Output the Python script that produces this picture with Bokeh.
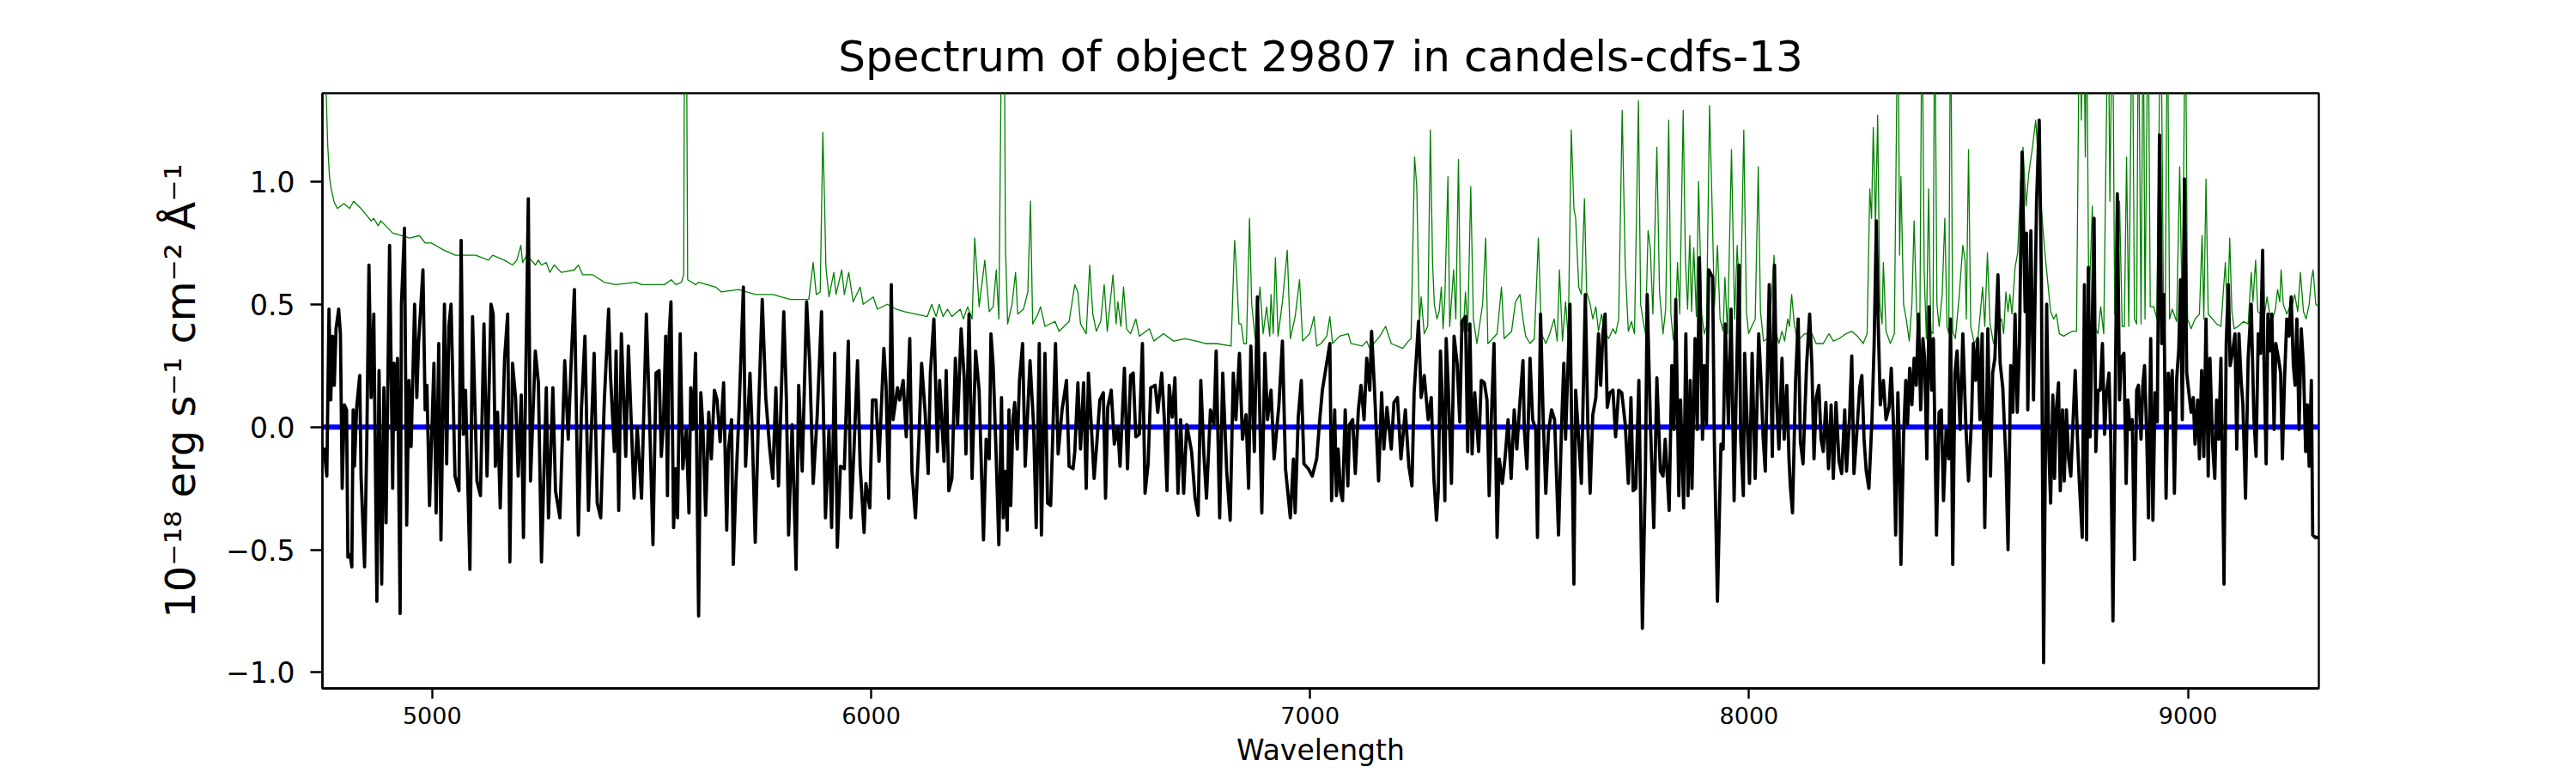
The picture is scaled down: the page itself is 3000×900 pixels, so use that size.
from bokeh.plotting import figure
from bokeh.models import Range1d, FixedTicker, CustomJSTickFormatter, Span
from bokeh.embed import file_html
from bokeh.resources import INLINE

title_text = "Spectrum of object 29807 in candels-cdfs-13"
x_label = "Wavelength"
y_label = "10\u207b\u00b9\u2078 erg s\u207b\u00b9 cm\u207b\u00b2 \u00c5\u207b\u00b9"
x_ticks = [5000, 6000, 7000, 8000, 9000]
y_ticks = [-1.0, -0.5, 0.0, 0.5, 1.0]
x_limits = (4750, 9298)
y_limits = (-1.065, 1.36)
zero_level = 0.0

# observed flux (black)
flux_wave = [
4750,4754,4760,4765,4769,4773,4777,4781,4787,4791,4795,4800,4805,4808,4813,4817,4820,4823,4828,4835,
4838,4846,4851,4856,4861,4867,4874,4879,4885,4890,4895,4903,4910,4913,4917,4921,4927,4930,4937,4942,
4947,4952,4960,4965,4969,4979,4984,4988,4994,5004,5009,5015,5020,5028,5033,5038,5043,5052,5061,5066,
5071,5076,5086,5092,5102,5110,5118,5125,5134,5139,5144,5149,5155,5165,5172,5177,5183,5190,5196,5203,
5208,5219,5224,5235,5242,5249,5260,5265,5275,5281,5291,5302,5310,5317,5324,5333,5340,5348,5356,5369,
5376,5384,5392,5402,5406,5415,5419,5425,5431,5441,5447,5460,5467,5477,5488,5495,5503,
5510,5517,5522,5527,5532,5536,5540,5544,5550,5555,5559,5565,5571,5579,5585,5589,5594,5600,5607,5612,
5617,5623,5630,5636,5643,5649,5656,5664,5671,5675,5682,5686,5692,5699,5709,5714,5724,5729,5736,5744,
5752,5760,5769,5776,5783,5789,5801,5807,5812,5820,5829,5835,5843,5853,5860,5868,5877,5887,5896,5904,
5910,5917,5923,5930,5939,5948,5954,5961,5969,5975,5984,5988,5997,6003,6011,6018,6029,6034,6040,6046,
6050,6060,6065,6073,6080,6088,6093,6101,6109,6115,6123,6130,6135,6143,6151,6156,6161,6166,6171,6177,
6184,6192,6197,6205,6212,6216,6223,6230,6238,6246,6256,6262,
6269,6273,6278,6284,6291,6297,6301,6306,6310,6314,6318,6323,6327,6333,6338,6345,6351,6362,6370,6376,
6383,6388,6396,6402,6409,6420,6426,6435,6445,6451,6460,6464,6471,6477,6484,6490,6495,6502,6508,6514,
6521,6529,6534,6539,6547,6554,6562,6567,6577,6584,6591,6597,6603,6611,6618,6624,6631,6637,6647,6653,
6662,6668,6674,6679,6686,6692,6699,6705,6712,6719,6730,6738,6745,6751,6758,6764,6773,6781,6786,6794,
6801,6810,6818,6825,6831,6839,6846,6854,6860,6865,6873,6880,6890,6897,6903,6911,6918,6929,6937,6944,
6950,6955,6962,6966,6973,6980,6986,6996,7005,7015,7022,7028,
7045,7049,7056,7060,7064,7069,7074,7080,7086,7090,7097,7103,7110,7116,7123,7129,7136,7140,7146,7151,
7156,7163,7168,7175,7185,7191,7199,7207,7217,7225,7232,7237,7247,7253,7260,7269,7276,7282,7288,7292,
7297,7302,7307,7310,7315,7322,7328,7335,7341,7346,7354,7359,7364,7369,7375,7384,7390,7397,7403,7408,
7413,7419,7426,7431,7438,7444,7451,7458,7465,7471,7478,7485,7488,7494,7501,7507,7514,7518,7525,7531,
7537,7543,7550,7557,7566,7573,7578,7582,7592,7601,7605,7612,7618,7627,7633,7638,7644,7651,7657,7662,
7667,7672,7677,7683,7690,7696,7703,7710,7718,7725,7731,7736,7742,7749,7757,7764,7768,7775,7783,7790,
7798,
7804,7809,7814,7818,7824,7829,7833,7840,7844,7851,7856,7861,7866,7870,7877,7882,7887,7894,7898,7903,
7908,7917,7921,7928,7936,7941,7946,7953,7959,7966,7970,7977,7981,7987,7990,7996,8001,8007,8014,8022,
8027,8032,8037,8046,8053,8058,8063,8068,8075,8080,8086,8091,8094,8099,8106,8112,8117,8123,8131,8138,
8143,8148,8153,8159,8164,8169,8175,8181,8187,8192,8198,8205,8211,8218,8222,8229,8234,8239,8246,8252,
8257,8262,8267,8273,8280,8285,8290,8294,8299,8306,8312,8319,8324,8329,8334,8339,8342,8346,8352,8357,
8361,8366,8371,8376,8381,8386,8391,8396,8400,8405,8410,8416,8420,8427,8433,8438,8443,8449,8455,8459,
8464,8469,8474,8481,8487,8494,8500,8507,8511,8516,8521,8526,8531,8537,8544,8550,8555,8560,8567,
8572,8578,8585,8590,8596,8601,8606,8611,8616,8622,8629,8632,8635,8642,8648,8655,8661,8666,8671,8678,
8683,8687,8692,8696,8700,8705,8709,8714,8718,8723,8728,8733,8738,8743,8748,8752,8759,8764,8769,8773,
8777,8782,8786,8790,8795,8800,8805,8810,8814,8820,8824,8829,8834,8839,8844,8848,8854,8859,8863,8868,
8873,8878,8883,8887,8893,8897,8901,8906,8910,8915,8920,8925,8930,8935,8940,8945,8950,8955,8959,8964,
8969,8974,8979,8983,8987,8992,8997,9002,9007,9012,9016,9022,9026,9031,9036,9041,9046,9050,9056,9061,
9065,9070,9075,9082,9087,9092,9096,9101,9107,9111,9116,9121,9125,9131,9137,9144,9150,9155,9160,9165,
9170,9173,9178,9182,9186,9191,9196,9200,9206,9211,9215,9220,9225,9230,9235,9240,9244,9248,9253,9258,
9263,9268,9272,9276,9281,9284,9290,9298]
flux_value = [
-0.10,-0.09,-0.20,0.48,0.11,0.37,0.17,0.40,0.48,0.38,-0.25,0.09,0.07,-0.53,-0.52,-0.57,0.07,-0.16,0.08,0.21,
-0.20,-0.57,-0.07,0.66,0.12,0.46,-0.71,0.23,-0.64,0.16,-0.39,0.74,-0.25,0.26,-0.01,0.28,-0.76,0.50,0.81,-0.40,
0.19,-0.08,0.50,0.12,0.34,0.64,0.07,0.17,-0.32,0.26,-0.35,0.34,-0.46,0.50,-0.15,0.41,0.50,-0.20,-0.26,0.76,
-0.03,0.15,-0.58,0.45,-0.22,-0.28,0.42,-0.20,0.50,0.46,-0.16,0.06,-0.33,0.28,0.46,-0.55,0.26,0.12,-0.20,0.13,
-0.45,0.93,-0.22,0.31,0.18,-0.55,0.16,-0.37,0.16,-0.26,-0.37,0.27,-0.05,0.28,0.56,-0.44,0.07,0.37,-0.34,0.30,
-0.31,-0.37,0.10,0.48,0.22,-0.10,0.31,-0.34,0.38,-0.12,0.33,-0.29,0.00,-0.29,0.46,0.05,-0.48,
0.22,0.23,-0.12,0.03,0.37,-0.28,0.38,0.51,-0.41,-0.17,-0.37,0.38,-0.17,-0.01,-0.35,0.16,-0.01,0.30,-0.77,0.14,
-0.01,-0.36,0.06,-0.13,0.15,0.11,-0.06,0.18,-0.42,-0.09,0.03,-0.56,-0.23,0.06,0.57,-0.16,0.22,-0.01,-0.47,0.09,
0.52,0.12,-0.09,-0.21,0.16,-0.24,0.47,0.11,-0.44,0.01,-0.58,0.17,-0.18,0.51,0.26,-0.23,0.04,0.47,-0.37,-0.01,
-0.41,0.30,-0.49,-0.16,-0.17,0.35,-0.37,-0.09,0.27,-0.16,-0.43,-0.23,-0.33,0.11,0.11,-0.14,0.32,0.17,-0.29,0.58,
0.03,0.16,0.11,0.19,-0.04,0.36,-0.18,-0.37,-0.04,0.26,0.06,-0.19,0.22,0.44,-0.10,0.19,0.03,-0.14,0.23,-0.26,
-0.21,0.28,0.01,0.40,0.20,-0.11,0.46,-0.21,0.31,0.15,-0.46,-0.05,
-0.13,0.38,0.25,-0.07,-0.48,0.12,-0.37,-0.18,-0.42,0.07,-0.32,0.03,0.10,-0.09,0.19,0.34,-0.16,0.27,0.01,-0.41,
0.34,-0.44,0.30,-0.31,-0.32,0.34,-0.11,0.07,0.19,-0.16,-0.17,-0.10,0.18,-0.09,0.18,-0.25,0.22,-0.01,-0.21,-0.07,
0.11,0.14,-0.29,0.08,0.15,-0.07,0.00,-0.16,0.24,-0.17,0.21,0.22,-0.04,-0.03,0.34,-0.27,-0.15,0.16,0.17,0.06,
0.22,0.03,-0.26,0.17,0.04,0.20,-0.27,0.03,-0.27,0.01,-0.10,-0.29,-0.36,0.19,-0.11,-0.29,0.07,0.01,0.31,-0.37,
0.22,-0.18,-0.38,0.22,0.03,0.30,-0.05,0.05,-0.25,0.33,-0.10,0.53,-0.35,0.30,0.03,0.15,-0.13,0.09,0.35,-0.17,
-0.28,-0.37,-0.13,-0.35,0.04,0.19,-0.15,-0.17,-0.20,-0.13,0.03,0.15,
0.34,-0.30,0.07,-0.28,-0.09,-0.26,-0.30,0.07,-0.24,0.01,0.03,-0.19,0.07,0.17,0.03,0.28,0.15,0.39,0.18,-0.02,
-0.22,0.14,-0.09,0.08,-0.09,0.10,0.12,-0.13,0.07,-0.16,-0.24,0.14,0.43,0.12,0.21,0.03,0.12,-0.21,-0.38,-0.26,
0.31,0.07,-0.30,0.36,0.15,-0.23,0.37,0.26,0.02,0.43,0.45,-0.10,0.42,-0.11,0.14,-0.10,0.19,0.18,0.11,-0.28,
0.04,0.34,-0.45,-0.13,-0.23,-0.13,0.03,-0.21,0.07,-0.09,0.10,0.27,-0.01,-0.17,0.28,0.03,-0.01,-0.45,0.46,0.04,
-0.27,-0.02,0.07,0.03,-0.44,0.01,0.26,-0.05,0.50,-0.64,0.15,-0.05,-0.23,0.54,-0.01,-0.27,0.05,0.12,0.38,0.17,
0.38,0.46,0.08,0.14,0.15,-0.04,0.15,0.14,0.01,-0.23,0.12,-0.26,-0.25,0.19,-0.82,-0.17,0.54,0.03,-0.41,0.20,
-0.18,
-0.20,-0.05,-0.21,-0.34,0.25,-0.01,0.52,-0.28,0.11,-0.33,0.38,-0.28,0.19,-0.25,0.36,-0.01,0.69,-0.05,0.25,0.01,
0.64,0.61,-0.07,-0.71,-0.07,-0.09,0.42,0.01,0.48,-0.30,0.08,0.66,-0.05,-0.28,0.30,0.00,-0.23,0.30,-0.21,0.38,
0.20,-0.04,-0.18,0.58,-0.12,0.66,0.10,-0.09,0.28,-0.05,0.17,-0.13,-0.24,-0.35,0.19,0.44,-0.06,-0.15,0.25,0.46,
0.26,-0.13,0.12,0.17,-0.05,-0.10,0.10,-0.17,0.09,-0.21,0.10,-0.14,-0.19,0.07,-0.18,0.04,0.29,-0.19,-0.01,0.16,
0.21,-0.05,-0.18,-0.25,0.03,0.34,0.84,0.44,0.09,0.19,0.03,0.08,0.24,0.01,-0.44,0.14,-0.04,-0.56,-0.04,0.19,
0.01,0.24,0.09,0.28,0.17,0.46,0.07,0.36,0.28,-0.13,0.49,0.15,0.36,-0.44,0.06,0.07,-0.30,-0.01,-0.13,0.44,
-0.56,0.22,0.31,-0.01,0.38,0.00,-0.22,0.04,0.34,0.19,0.36,0.03,0.38,-0.41,0.40,-0.20,0.22,0.28,0.62,
0.26,0.16,-0.13,-0.50,0.25,0.06,0.46,0.06,0.34,1.12,0.47,0.79,0.07,0.80,0.11,0.92,1.25,0.60,-0.96,0.50,
-0.10,-0.31,0.13,-0.21,0.07,0.18,-0.26,0.07,-0.22,0.07,-0.13,-0.20,0.02,0.23,-0.04,-0.21,-0.45,0.58,-0.46,0.65,
-0.04,0.44,0.85,-0.10,0.15,0.15,0.34,-0.03,0.13,0.22,-0.05,-0.79,0.09,0.95,0.11,0.28,0.30,-0.23,0.11,-0.01,
0.03,-0.54,0.15,0.17,-0.05,0.17,0.25,-0.04,-0.37,0.36,-0.38,0.14,0.02,1.19,0.34,0.54,-0.29,0.22,0.07,0.23,
-0.27,0.19,0.32,0.60,0.03,1.01,0.22,0.14,0.06,0.12,-0.07,0.11,-0.13,0.23,-0.12,0.44,-0.20,0.28,-0.07,-0.21,
0.11,-0.05,0.28,-0.64,0.34,0.58,0.25,0.30,0.38,-0.09,0.38,0.19,0.09,-0.29,0.28,0.50,0.04,-0.12,0.38,0.30,
0.72,0.28,-0.15,0.46,0.31,0.46,-0.01,0.34,0.28,0.22,-0.13,0.20,0.44,0.37,0.53,0.25,0.17,0.44,-0.01,0.40,
0.25,-0.10,0.09,-0.16,0.19,-0.44,-0.45,-0.45]

# noise / error spectrum (green)
noise_wave = [
4750,4757,4762,4766,4769,4776,4784,4799,4812,4821,4838,4861,4867,4877,4883,4910,4929,4949,4971,4984,
4998,5027,5053,5099,5128,5138,5164,5183,5193,5202,5206,5216,5235,5242,5249,5260,5268,5278,5294,5324,
5333,5343,5366,5392,5418,5464,5477,5522,
5529,5545,5555,5568,5573,5575,5579,5582,5591,5600,5607,5626,5646,5659,5698,5737,5776,5816,5858,5868,
5875,5884,5890,5894,5897,5904,5915,5920,5933,5939,5949,5959,5975,5982,6005,6014,6037,6057,6076,6128,
6138,6148,6155,6164,6174,6184,6203,6210,6220,6230,6236,6246,6259,6269,
6278,6285,6291,6298,6303,6306,6311,6321,6329,6334,6347,6357,6363,6368,6380,6386,6396,6419,6428,6451,
6464,6471,6477,6490,6498,6505,6513,6523,6531,6538,6551,6558,6562,6569,6575,6582,6591,6603,6611,6634,
6644,6666,6689,6715,6741,6761,6787,6820,6828,6831,6838,6843,6849,6855,6862,6867,6875,6886,6893,6901,
6908,6911,6916,6921,6927,6937,6948,6955,6966,6976,6983,6999,7009,7015,7025,7038,
7045,7051,7067,7087,7093,7119,7129,7136,7159,7172,7185,7211,7224,7230,7238,7243,7249,7253,7260,7268,
7274,7279,7283,7289,7294,7299,7303,7307,7314,7318,7327,7332,7338,7343,7349,7354,7359,7366,7372,7380,
7393,7400,7405,7416,7426,7436,7442,7459,7468,7478,7485,7491,7501,7511,7520,7527,7537,7546,7556,7563,
7568,7575,7582,7588,7595,7601,7605,7612,7618,7625,7630,7638,7644,7651,7657,7664,7670,7680,7690,7696,
7703,7711,7718,7725,7732,7739,7748,7753,7758,7764,7770,7775,7781,7790,7796,
7804,7810,7817,7822,7827,7831,7837,7842,7850,7855,7860,7865,7869,7874,7880,7885,7892,7898,7903,7910,
7916,7921,7928,7934,7941,7945,7951,7960,7967,7973,7980,7988,7994,7999,8006,8014,8021,8026,8033,8042,
8048,8057,8061,8068,8075,8081,8088,8092,8097,8103,8110,8127,8143,8153,8169,8182,8192,8205,8221,8234,
8247,8260,8269,8275,8279,8283,8288,8293,8298,8303,8306,8312,8322,8331,8339,8343,8346,8352,8358,8365,
8371,8376,8383,8389,8394,8399,8404,8409,8414,8419,8423,8428,8433,8440,8446,8451,8455,8459,8464,8470,
8479,8487,8492,8495,8500,8505,8513,8522,8532,8537,8543,8549,8557,
8568,8575,8580,8585,8590,8594,8599,8606,8612,8619,8624,8631,8637,8645,8653,8661,8668,8674,8681,8687,
8694,8700,8707,8717,8726,8736,8746,8753,8757,8762,8766,8769,8774,8782,8787,8795,8801,8808,8818,8822,
8828,8833,8839,8844,8850,8855,8860,8865,8873,8878,8883,8887,8893,8898,8902,8909,8914,8922,8929,8938,
8944,8948,8953,8958,8964,8974,8981,8987,8994,8999,9007,9016,9026,9032,9036,9041,9046,9056,9065,9075,
9085,9090,9095,9100,9105,9114,9127,9137,9144,9148,9154,9159,9167,9173,9180,9186,9193,9199,9204,9209,
9212,9217,9225,9232,9238,9243,9250,9256,9263,9269,9276,9281,9285,9291,9298]
noise_value = [
1.80,1.45,1.15,1.02,0.98,0.92,0.89,0.91,0.89,0.92,0.89,0.84,0.85,0.82,0.84,0.79,0.78,0.77,0.78,0.75,
0.75,0.72,0.70,0.70,0.68,0.70,0.68,0.66,0.68,0.74,0.67,0.70,0.66,0.68,0.66,0.67,0.63,0.66,0.63,0.64,
0.66,0.62,0.62,0.59,0.58,0.59,0.58,0.58,
0.58,0.60,0.58,0.59,0.62,1.80,1.80,0.60,0.59,0.58,0.59,0.58,0.57,0.55,0.56,0.54,0.54,0.52,0.52,0.67,
0.54,0.55,1.20,0.91,0.65,0.53,0.63,0.54,0.64,0.54,0.63,0.51,0.57,0.50,0.53,0.48,0.50,0.48,0.47,0.45,
0.50,0.45,0.50,0.45,0.48,0.45,0.48,0.44,0.49,0.44,0.77,0.49,0.68,0.47,
0.49,0.64,0.44,1.80,1.80,0.74,0.42,0.50,0.63,0.46,0.48,0.55,0.92,0.42,0.46,0.49,0.41,0.43,0.39,0.43,
0.58,0.55,0.42,0.38,0.66,0.46,0.39,0.43,0.58,0.39,0.62,0.42,0.51,0.41,0.57,0.40,0.38,0.44,0.37,0.40,
0.35,0.38,0.35,0.36,0.35,0.34,0.34,0.33,0.76,0.68,0.42,0.42,0.34,0.34,0.85,0.50,0.36,0.57,0.38,0.49,
0.37,0.54,0.38,0.69,0.37,0.51,0.72,0.36,0.45,0.60,0.35,0.38,0.45,0.33,0.34,0.37,
0.45,0.34,0.37,0.38,0.34,0.33,0.35,0.32,0.37,0.41,0.34,0.32,0.35,0.36,1.10,0.98,0.42,0.53,0.38,0.41,
1.21,0.67,0.50,0.44,0.47,0.57,0.40,0.53,1.02,0.41,0.64,0.44,1.09,0.41,0.39,0.55,0.39,0.98,0.44,0.34,
0.50,0.77,0.34,0.36,0.38,0.57,0.36,0.39,0.51,0.54,0.44,0.37,0.34,0.36,0.77,0.38,0.34,0.38,0.44,0.35,
0.64,0.35,0.51,0.36,1.21,0.89,0.85,0.57,0.54,0.93,0.55,0.50,0.44,0.49,0.39,0.46,0.39,0.36,0.40,0.38,
0.44,1.29,0.65,0.39,0.43,0.38,1.33,0.50,0.44,0.38,0.80,0.73,0.46,1.14,0.55,
0.38,0.48,1.25,0.46,0.36,0.34,0.67,0.46,1.29,0.68,0.48,0.78,0.47,0.73,0.45,1.00,0.46,0.38,0.41,1.31,
0.89,0.49,0.74,0.44,0.39,0.61,0.38,1.13,0.44,0.74,0.44,1.21,0.47,0.38,0.41,0.44,1.06,0.47,0.35,0.36,
0.44,0.70,0.39,0.34,0.39,0.35,0.44,0.41,0.54,0.42,0.35,0.38,0.38,0.34,0.34,0.38,0.35,0.36,0.38,0.39,
0.37,0.34,0.38,0.97,0.85,1.22,0.82,1.27,0.50,0.42,0.67,0.39,0.34,0.38,1.80,0.70,1.02,0.50,0.44,0.35,
0.50,0.84,0.39,0.38,1.80,0.63,0.36,0.97,0.39,0.38,1.80,0.50,0.41,0.54,0.85,0.41,0.38,1.80,0.39,0.36,
0.54,0.74,0.68,0.44,1.13,0.41,0.34,0.37,0.57,0.41,0.71,0.42,0.34,
0.42,0.44,0.38,0.55,0.47,0.54,0.46,0.65,0.71,1.00,1.14,0.90,1.03,1.13,1.25,1.03,0.84,0.71,0.58,0.47,
0.44,0.46,0.38,0.37,0.38,0.39,0.39,1.80,1.25,1.80,1.10,1.80,0.47,0.90,0.41,0.38,0.49,0.38,1.80,0.92,
1.80,0.46,0.44,0.92,0.41,0.41,1.10,0.41,1.80,0.44,0.42,1.80,0.42,1.80,0.44,1.80,0.49,0.49,0.44,1.80,
0.52,0.42,1.80,0.44,0.48,0.43,1.06,0.44,1.80,0.44,0.40,0.44,0.46,0.78,0.44,1.01,0.46,0.44,0.42,0.41,
0.67,0.44,0.77,0.47,0.40,0.41,0.43,0.42,0.63,0.51,0.68,0.47,0.46,0.44,0.53,0.46,0.44,0.48,0.56,0.51,
0.64,0.50,0.46,0.49,0.50,0.54,0.47,0.63,0.47,0.44,0.50,0.60,0.64,0.50,0.49]

FONT = "DejaVu Sans"

p = figure(width=3000, height=900,
           x_range=Range1d(*x_limits), y_range=Range1d(*y_limits),
           output_backend="svg", toolbar_location=None,
           min_border_left=375, min_border_right=300,
           min_border_top=108, min_border_bottom=99,
           title=title_text)

p.background_fill_color = "white"
p.border_fill_color = "white"
p.outline_line_color = "black"
p.outline_line_width = 2.4
p.grid.visible = False

p.title.text_font = FONT
p.title.text_font_size = "50px"
p.title.text_font_style = "normal"
p.title.text_color = "black"
p.title.align = "center"
p.title.standoff = 28

zero_span = Span(location=zero_level, dimension="width", line_color="#0000ff",
                 line_width=6, level="underlay")
p.add_layout(zero_span)

p.line(noise_wave, noise_value, line_color="#008000", line_width=1.3, line_join="round")
p.line(flux_wave, flux_value, line_color="black", line_width=3.8, line_join="round")

xa = p.xaxis[0]
xa.ticker = FixedTicker(ticks=x_ticks)
xa.axis_label = x_label
xa.axis_label_text_font = FONT
xa.axis_label_text_font_size = "33px"
xa.axis_label_text_font_style = "normal"
xa.axis_label_text_color = "black"
xa.axis_label_standoff = 8
xa.major_label_text_font = FONT
xa.major_label_text_font_size = "27px"
xa.major_label_text_color = "black"
xa.major_label_standoff = 9
xa.major_tick_out = 12
xa.major_tick_in = 0
xa.minor_tick_line_color = None
xa.major_tick_line_width = 2.4
xa.major_tick_line_color = "black"
xa.axis_line_color = "black"
xa.axis_line_width = 2.4

ya = p.yaxis[0]
ya.ticker = FixedTicker(ticks=y_ticks)
ya.formatter = CustomJSTickFormatter(
    code="return (tick < 0 ? '\u2212' : '') + Math.abs(tick).toFixed(1);")
ya.axis_label = y_label
ya.axis_label_text_font = FONT
ya.axis_label_text_font_size = "48px"
ya.axis_label_text_font_style = "normal"
ya.axis_label_text_color = "black"
ya.axis_label_standoff = 22
ya.major_label_text_font = FONT
ya.major_label_text_font_size = "33px"
ya.major_label_text_color = "black"
ya.major_label_standoff = 18
ya.major_tick_out = 14
ya.major_tick_in = 0
ya.minor_tick_line_color = None
ya.major_tick_line_width = 2.4
ya.major_tick_line_color = "black"
ya.axis_line_color = "black"
ya.axis_line_width = 2.4

open("out.html", "w").write(file_html(p, INLINE))
